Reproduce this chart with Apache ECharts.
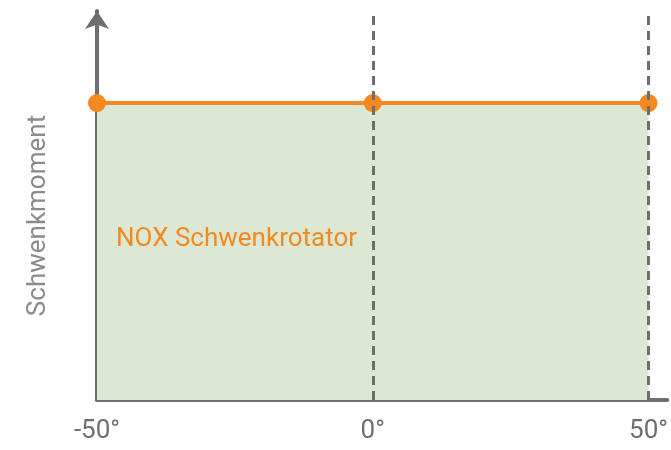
<!DOCTYPE html>
<html><head><meta charset="utf-8">
<script src="https://cdn.jsdelivr.net/npm/echarts@6/dist/echarts.min.js"></script>
<style>html,body{margin:0;padding:0;background:#fff;overflow:hidden}#c{width:100vw;height:100vh}</style>
</head><body><div id="c"></div>
<script>
const xValues = [-50, 0, 50];
const yValues = [100, 100, 100];
const tickLabels = ['-50°', '0°', '50°'];
const seriesName = 'NOX Schwenkrotator';
const yAxisName = 'Schwenkmoment';
const dashedAt = [0, 50];
const labelAt = [-24.7, 54];

const chart = echarts.init(document.getElementById('c'));
const grey = '#6d6e71';
const orange = '#f5891f';
chart.setOption({
  animation: false,
  grid: {left: 97, right: 0, top: 11, bottom: 50},
  xAxis: {
    type: 'value', min: -50, max: 53.4, interval: 50,
    axisLine: {lineStyle: {color: grey, width: 4}},
    axisTick: {show: false},
    splitLine: {show: false},
    axisLabel: {
      color: grey, fontSize: 26, fontFamily: 'Roboto', margin: 18,
      formatter: v => { const i = xValues.indexOf(v); return i >= 0 ? tickLabels[i] : ''; }
    }
  },
  yAxis: {
    type: 'value', min: 0, max: 131,
    name: yAxisName, nameLocation: 'middle', nameGap: 46,
    nameTextStyle: {color: '#8a8b8d', fontSize: 26, fontFamily: 'Roboto', padding: [0, 0, 0, -20]},
    axisLine: {show: true, onZero: false, symbol: ['none', 'arrow'], symbolSize: [18, 18], lineStyle: {color: grey, width: 4}},
    axisTick: {show: false}, axisLabel: {show: false}, splitLine: {show: false}
  },
  series: [{
    type: 'line', name: seriesName,
    data: xValues.map((x, i) => [x, yValues[i]]),
    symbol: 'circle', symbolSize: 18,
    itemStyle: {color: orange},
    lineStyle: {color: orange, width: 4},
    areaStyle: {color: '#dbe8d4', opacity: 1},
    z: 3,
    markLine: {
      silent: true, symbol: 'none', label: {show: false},
      lineStyle: {color: grey, width: 3, type: [9, 6]},
      data: dashedAt.map(x => ({xAxis: x}))
    },
    markPoint: {
      symbol: 'circle', symbolSize: 0,
      label: {show: true, formatter: seriesName, color: orange, fontSize: 26, fontFamily: 'Roboto', position: 'inside'},
      data: [{coord: labelAt}]
    }
  }]
});
</script></body></html>
